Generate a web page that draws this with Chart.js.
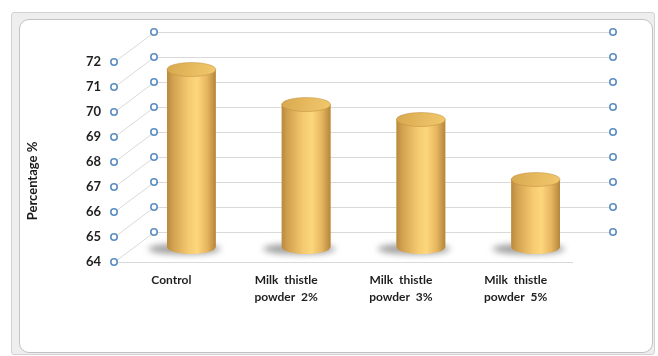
<!DOCTYPE html>
<html><head><meta charset="utf-8">
<script src="https://cdn.jsdelivr.net/npm/chart.js@4"></script>
<style>
html,body{margin:0;padding:0;background:#fff;width:658px;height:356px;overflow:hidden}
#outer{position:absolute;left:11px;top:12px;width:642px;height:341px;background:#eeeeee;border:1px solid #d2d2d2;border-radius:3px}
#inner{position:absolute;left:19px;top:19px;width:632px;height:332px;background:#fff;border:1px solid #c2c2c2;border-radius:10px}
canvas{position:absolute;left:0;top:0}
</style></head><body>
<div id="outer"></div><div id="inner"></div>
<canvas id="c" width="658" height="356"></canvas>
<script>
const categories = [['Control'], ['Milk  thistle', 'powder  2%'], ['Milk  thistle', 'powder  3%'], ['Milk  thistle', 'powder  5%']];
const values = [71.1, 69.7, 69.1, 66.7];
const yTicks = [64, 65, 66, 67, 68, 69, 70, 71, 72];
const axisTitle = 'Percentage %';

const DX = 40, DY = -30, RY = 7;

function circle(ctx, x, y) {
  ctx.beginPath();
  ctx.arc(x, y, 3.2, 0, Math.PI * 2);
  ctx.fillStyle = '#fff';
  ctx.fill();
  ctx.lineWidth = 1.6;
  ctx.strokeStyle = '#5b8ec3';
  ctx.stroke();
}

const depthPlugin = {
  id: 'depth',
  beforeDatasetsDraw(chart) {
    const ctx = chart.ctx, ys = chart.scales.y, a = chart.chartArea;
    ctx.save();
    ctx.strokeStyle = '#d9d9d9';
    ctx.lineWidth = 1;
    yTicks.forEach(v => {
      const y = Math.round(ys.getPixelForValue(v)) + 0.5;
      ctx.beginPath();
      ctx.moveTo(a.left, y);
      ctx.lineTo(a.left + DX, y + DY);
      ctx.lineTo(a.right + DX, y + DY);
      ctx.stroke();
    });
    ctx.beginPath();
    ctx.moveTo(a.left, Math.round(a.bottom) + 0.5);
    ctx.lineTo(a.right, Math.round(a.bottom) + 0.5);
    ctx.stroke();
    yTicks.forEach(v => {
      const y = ys.getPixelForValue(v);
      circle(ctx, a.left, y);
      circle(ctx, a.left + DX, y + DY);
      circle(ctx, a.right + DX, y + DY);
    });
    ctx.restore();

    ctx.save();
    ctx.translate(DX / 2, DY / 2);
    const meta = chart.getDatasetMeta(0);
    meta.data.forEach(bar => {
      const p = bar.getProps(['x', 'base', 'width'], true);
      ctx.save();
      ctx.filter = 'blur(3px)';
      ctx.beginPath();
      ctx.ellipse(p.x - 7, p.base + 2, p.width / 2 + 12, RY - 1.5, 0, 0, Math.PI * 2);
      ctx.fillStyle = 'rgba(70,70,70,0.5)';
      ctx.fill();
      ctx.restore();
    });
  },
  afterDatasetsDraw(chart) {
    const ctx = chart.ctx;
    const meta = chart.getDatasetMeta(0);
    meta.data.forEach(bar => {
      const p = bar.getProps(['x', 'y', 'base', 'width'], true);
      const rx = p.width / 2, L = p.x - rx, R = p.x + rx;
      const g = ctx.createLinearGradient(L, 0, R, 0);
      g.addColorStop(0, '#b98a3f');
      g.addColorStop(0.12, '#d2a14f');
      g.addColorStop(0.45, '#f6cb71');
      g.addColorStop(0.62, '#fdd67c');
      g.addColorStop(0.82, '#e6b660');
      g.addColorStop(1, '#b4863b');
      ctx.beginPath();
      ctx.moveTo(L, p.y);
      ctx.lineTo(L, p.base);
      ctx.ellipse(p.x, p.base, rx, RY, 0, Math.PI, 0, true);
      ctx.lineTo(R, p.y);
      ctx.closePath();
      ctx.fillStyle = g;
      ctx.fill();
      const t = ctx.createLinearGradient(L, p.y - RY, R, p.y + RY);
      t.addColorStop(0, '#d7a84f');
      t.addColorStop(0.55, '#e8bb60');
      t.addColorStop(1, '#f1c86d');
      ctx.beginPath();
      ctx.ellipse(p.x, p.y, rx, RY, 0, 0, Math.PI * 2);
      ctx.fillStyle = t;
      ctx.fill();
      ctx.lineWidth = 0.8;
      ctx.strokeStyle = 'rgba(190,140,55,0.6)';
      ctx.stroke();
    });
    ctx.restore();
  },
  afterDraw(chart) {
    const ctx = chart.ctx;
    ctx.save();
    ctx.translate(33, 181);
    ctx.rotate(-Math.PI / 2);
    ctx.font = 'bold 13px Lato';
    ctx.textAlign = 'center';
    ctx.textBaseline = 'middle';
    ctx.fillStyle = '#1a1a1a';
    ctx.fillText(axisTitle, 0, 0);
    ctx.restore();
  }
};

new Chart(document.getElementById('c'), {
  type: 'bar',
  data: {
    labels: categories,
    datasets: [{
      data: values,
      base: 64,
      backgroundColor: '#e2b45c',
      borderWidth: 0,
      barPercentage: 0.425,
      categoryPercentage: 1,
      clip: false
    }]
  },
  options: {
    responsive: false,
    animation: false,
    devicePixelRatio: 1,
    layout: { padding: { top: 62, right: 85, left: 0, bottom: 0 } },
    plugins: { legend: { display: false }, tooltip: { enabled: false } },
    scales: {
      x: {
        grid: { display: false, drawTicks: false },
        border: { display: false },
        ticks: {
          font: { family: 'Lato', weight: 'bold', size: 12, lineHeight: 1.4 },
          color: '#1f1f1f',
          padding: 10,
          maxRotation: 0,
          autoSkip: false
        },
        afterFit(s) { s.height = 94; }
      },
      y: {
        min: 64, max: 72,
        grid: { display: false, drawTicks: false },
        border: { display: false },
        ticks: {
          stepSize: 1,
          font: { family: 'Lato', weight: 'bold', size: 13 },
          color: '#1f1f1f',
          padding: 13
        },
        afterFit(s) { s.width = 114; }
      }
    }
  },
  plugins: [depthPlugin]
});
</script>
</body></html>
